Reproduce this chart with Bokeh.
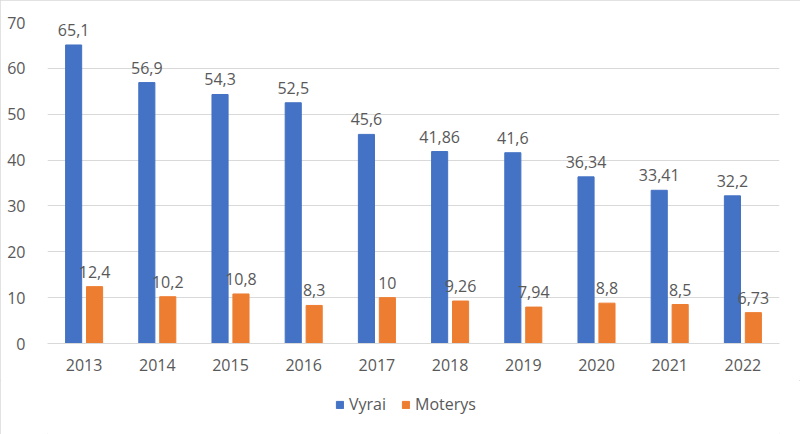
from bokeh.plotting import figure
from bokeh.layouts import column
from bokeh.models import ColumnDataSource, Legend, LegendItem, FixedTicker, Range1d
from bokeh.transform import dodge
from bokeh.core.properties import value
from bokeh.embed import file_html
from bokeh.resources import INLINE

years = ["2013", "2014", "2015", "2016", "2017", "2018", "2019", "2020", "2021", "2022"]
vyrai = [65.1, 56.9, 54.3, 52.5, 45.6, 41.86, 41.6, 36.34, 33.41, 32.2]
moterys = [12.4, 10.2, 10.8, 8.3, 10, 9.26, 7.94, 8.8, 8.5, 6.73]
y_ticks = [0, 10, 20, 30, 40, 50, 60, 70]
series_names = ["Vyrai", "Moterys"]

def fmt(v):
    return f"{v:g}".replace(".", ",")

src = ColumnDataSource(dict(
    x=years, vyrai=vyrai, moterys=moterys,
    vl=[fmt(v) for v in vyrai], ml=[fmt(v) for v in moterys],
))

FONT = "Open Sans"
FS = "16px"
TXT = "#595959"
GRID = "#D9D9D9"
BLUE = "#4472C4"
ORANGE = "#ED7D31"

p = figure(x_range=years, y_range=Range1d(0, 70), frame_width=732, frame_height=321,
           output_backend="svg", toolbar_location=None,
           min_border_left=47, min_border_right=21, min_border_top=22, min_border_bottom=37)
p.outline_line_color = None
p.background_fill_color = "white"
p.border_fill_color = "white"

off = 0.143
bw = 0.22
p.vbar(x=dodge("x", -off, range=p.x_range), top="vyrai", width=bw, source=src,
       fill_color=BLUE, line_color=BLUE)
p.vbar(x=dodge("x", off, range=p.x_range), top="moterys", width=bw, source=src,
       fill_color=ORANGE, line_color=ORANGE)

p.text(x=dodge("x", -off, range=p.x_range), y="vyrai", text="vl", source=src,
       text_align="center", text_baseline="alphabetic", y_offset=-15,
       text_font=value(FONT), text_font_size=FS, text_color=TXT)
p.text(x=dodge("x", off, range=p.x_range), y="moterys", text="ml", source=src,
       text_align="center", text_baseline="alphabetic", y_offset=-15,
       text_font=value(FONT), text_font_size=FS, text_color=TXT)

p.yaxis.ticker = FixedTicker(ticks=y_ticks)
p.yaxis.axis_line_color = None
p.yaxis.major_tick_line_color = None
p.yaxis.minor_tick_line_color = None
p.yaxis.major_label_standoff = 16
p.yaxis.major_label_text_font = FONT
p.yaxis.major_label_text_font_size = FS
p.yaxis.major_label_text_color = TXT

p.xaxis.axis_line_color = GRID
p.xaxis.major_tick_line_color = None
p.xaxis.minor_tick_line_color = None
p.xaxis.major_tick_out = 0
p.xaxis.major_tick_in = 0
p.xaxis.major_label_standoff = 15
p.xaxis.major_label_text_font = FONT
p.xaxis.major_label_text_font_size = FS
p.xaxis.major_label_text_color = TXT

p.xgrid.grid_line_color = None
p.ygrid.grid_line_color = GRID
p.ygrid.grid_line_width = 1

# legend strip below the chart (dummy swatch renderers sit outside the visible range)
p2 = figure(x_range=Range1d(0, 1), y_range=Range1d(0, 1), width=800, height=54,
            output_backend="svg", toolbar_location=None,
            min_border_left=0, min_border_right=0, min_border_top=0, min_border_bottom=0)
p2.axis.visible = False
p2.grid.grid_line_color = None
p2.outline_line_color = None
p2.border_fill_color = "white"
g1 = p2.vbar(x=[-5], top=[-5], width=0.1, fill_color=BLUE, line_color=BLUE)
g2 = p2.vbar(x=[-5], top=[-5], width=0.1, fill_color=ORANGE, line_color=ORANGE)
legend = Legend(items=[LegendItem(label=series_names[0], renderers=[g1]),
                       LegendItem(label=series_names[1], renderers=[g2])],
                orientation="horizontal", location=(288, 19),
                glyph_width=9, glyph_height=9, label_standoff=5, spacing=15,
                padding=0, margin=0,
                border_line_color=None, background_fill_alpha=0,
                label_text_font=FONT, label_text_font_size=FS, label_text_color=TXT)
p2.add_layout(legend, "center")

layout = column(p, p2, spacing=0,
                styles={"outline": "1px solid #D9D9D9", "outline-offset": "-1px"})

open("out.html", "w").write(file_html(layout, INLINE))
